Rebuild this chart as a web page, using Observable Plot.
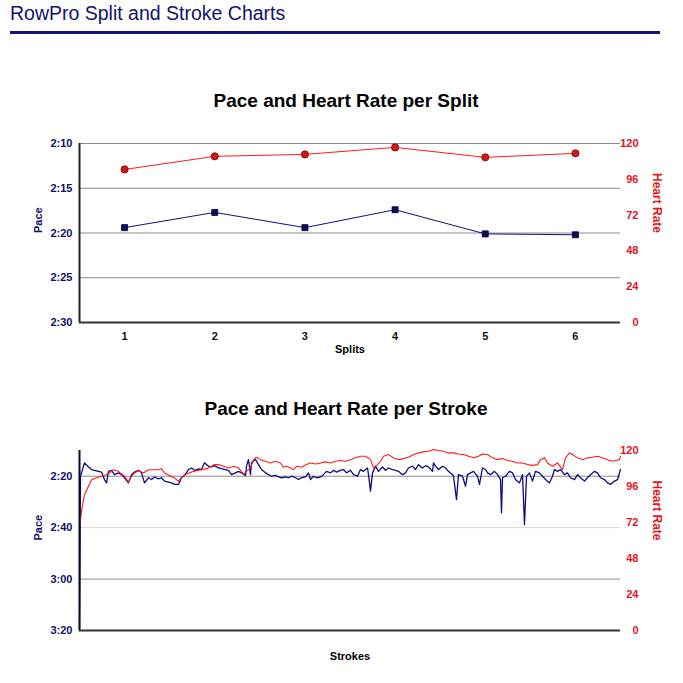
<!DOCTYPE html>
<html>
<head>
<meta charset="utf-8">
<script src="https://cdn.jsdelivr.net/npm/d3@7"></script>
<script src="https://cdn.jsdelivr.net/npm/@observablehq/plot@0.6"></script>
<style>
  body { margin: 0; background: #fff; font-family: "Liberation Sans", Arial, sans-serif; }
  #wrap { position: relative; width: 683px; height: 683px; overflow: hidden; }
  #hdr { position: absolute; left: 10px; top: 4px; font-size: 19.5px; line-height: 19.5px; color: #12126e; white-space: nowrap; }
  #rule { position: absolute; left: 10px; top: 31px; width: 650px; height: 3px; background: #14147a; }
  #c1 { position: absolute; left: 0; top: 70px; }
  #c2 { position: absolute; left: 0; top: 380px; }
  svg { overflow: visible; }
</style>
</head>
<body>
<div id="wrap">
  <div id="hdr">RowPro Split and Stroke Charts</div>
  <div id="rule"></div>
  <div id="c1"></div>
  <div id="c2"></div>
</div>
<script>
// ---- Split chart data ----
const splits = [1, 2, 3, 4, 5, 6];
const splitPace = [139.4, 137.7, 139.4, 137.4, 140.1, 140.2]; // seconds per 500m
const splitHR = [102.6, 111.4, 112.7, 117.4, 110.7, 113.4];
const splitPaceTicks = [130, 135, 140, 145, 150];
const hrTicks = [0, 24, 48, 72, 96, 120];

// ---- Stroke chart data ----
const strokePaceX = [0,1,5,9,12,15,19,22,25,27,29,32,35,39,42,45,49,52,55,59,62,65,69,72,75,79,82,85,89,92,95,99,102,105,109,112,115,119,122,125,129,132,135,139,144,149,152,156,159,162,166,167,169,171,172,176,179,182,186,189,192,196,199,202,206,209,212,216,219,222,226,229,231,234,237,241,244,247,251,254,257,261,264,267,271,274,278,281,284,288,289,291,293,296,299,303,306,309,313,316,319,323,326,329,333,336,339,343,346,349,353,354,356,359,363,366,369,373,374,377,379,383,386,388,391,394,398,400,403,406,408,411,415,418,421,422,423,426,430,433,436,440,443,445,447,450,453,456,460,463,466,470,473,475,478,481,485,488,491,495,498,501,505,508,511,515,518,521,525,528,531,535,538,541];
const strokePace = [200,140.0,134.8,136.4,137.4,137.7,138.1,138.4,141.3,142.6,138.1,137.7,139.4,138.7,139.4,140.6,142.6,139.4,138.4,137.7,138.7,142.6,140.6,141.3,140.3,141.0,140.6,141.9,142.3,142.6,143.2,143.2,140.6,139.7,137.4,136.8,137.7,137.2,137.4,134.8,136.1,136.4,135.9,136.8,137.2,137.7,139.4,138.7,138.1,138.7,139.7,136.1,133.5,139.4,134.8,133.5,135.5,137.4,138.7,139.4,140.0,139.7,140.3,140.6,140.3,140.6,140.0,140.6,141.3,140.6,140.3,138.7,141.3,140.0,140.6,140.3,139.4,138.1,138.7,137.7,138.4,137.7,137.4,138.7,137.7,139.4,140.0,137.4,138.1,136.8,139.4,145.8,138.7,136.1,138.1,136.4,137.7,136.8,137.4,137.7,138.1,139.4,138.7,136.8,136.1,137.4,135.5,136.8,135.9,136.4,138.1,134.8,136.1,137.4,136.1,136.8,138.1,139.4,140.0,149.1,139.4,140.0,143.9,139.4,138.7,138.1,140.0,143.2,136.8,137.4,138.7,139.4,138.1,139.4,141.3,154.2,140.6,140.0,138.1,138.7,141.3,142.6,139.4,158.8,140.0,138.7,141.9,138.1,138.7,140.0,141.3,142.6,140.0,137.4,138.1,137.4,139.4,138.7,140.6,141.3,139.4,140.6,141.9,140.6,139.4,138.1,138.7,140.6,141.3,142.6,143.2,141.9,141.3,137.4];
const strokeHRX = [0,2,4,5,9,12,17,22,27,30,34,39,42,45,49,52,55,59,64,69,74,79,82,85,90,95,99,102,107,112,117,122,127,132,135,139,144,149,154,159,164,167,171,174,177,181,186,191,196,201,204,207,211,214,217,222,227,231,236,241,246,251,256,261,266,271,276,281,286,291,294,298,301,304,309,314,319,324,329,334,339,344,349,354,359,364,369,374,379,384,389,394,399,403,408,413,418,423,428,433,438,443,448,453,458,461,465,468,473,478,483,486,490,493,498,503,508,513,518,523,528,533,536,540,541];
const strokeHR = [68.1,79.3,87.1,90.5,96.1,100.5,101.7,102.8,103.9,105.0,107.2,106.1,104.3,102.8,99.0,102.8,105.0,106.6,105.0,107.2,107.2,107.2,107.9,105.0,103.4,101.7,99.4,102.1,104.3,105.7,106.6,107.2,107.9,109.5,110.6,110.6,109.5,108.4,109.5,108.4,104.3,106.1,108.4,113.9,115.5,113.9,112.8,111.7,112.8,111.7,108.8,109.5,108.4,107.2,109.5,108.8,110.6,111.7,111.0,111.7,112.4,111.7,112.8,113.3,112.8,113.9,115.1,116.2,116.2,113.9,108.4,110.6,112.8,116.2,117.3,115.1,113.9,114.6,115.5,117.3,118.4,119.1,119.5,120.6,120.0,119.5,118.4,118.4,117.7,117.3,116.2,115.1,116.2,117.7,117.3,115.1,113.9,114.6,113.3,112.8,111.7,111.7,110.6,110.1,110.6,113.9,115.1,111.7,109.5,111.7,107.2,115.1,118.4,117.3,115.1,113.9,115.1,115.5,116.2,115.1,113.9,112.8,113.3,113.9,116.2];
const strokePaceTicks = [140, 160, 180, 200];

// ---- styles ----
const NAVY = "#10106b";
const RED = "#e4141c";
const FONT = "'Liberation Sans', Arial, sans-serif";
const fmt = s => `${Math.floor(s / 60)}:${String(Math.round(s % 60)).padStart(2, "0")}`;

// ---- Chart 1 ----
const p1Lo = 150, p1Hi = 130;
const hr1 = h => p1Lo - h * (p1Lo - p1Hi) / 120;
const chart1 = Plot.plot({
  width: 683, height: 290,
  marginTop: 73, marginBottom: 38, marginLeft: 79, marginRight: 63,
  x: {domain: [0.5, 6.5]},
  y: {domain: [p1Lo, p1Hi]},
  style: {fontFamily: FONT, overflow: "visible", background: "transparent"},
  marks: [
    Plot.ruleY([130, 135, 140, 145], {stroke: "#8c8c8c", strokeWidth: 1}),
    Plot.ruleY([150], {stroke: "#333", strokeWidth: 2}),
    Plot.ruleX([0.5], {stroke: "#222", strokeWidth: 2}),
    Plot.axisY({ticks: splitPaceTicks, anchor: "left", tickSize: 0, tickPadding: 7, tickFormat: fmt, fill: NAVY, fontWeight: "bold", fontSize: 11, label: null}),
    Plot.axisY({ticks: hrTicks.map(hr1), anchor: "right", tickSize: 0, tickPadding: 18, textAnchor: "end", tickFormat: v => Math.round((p1Lo - v) * 120 / (p1Lo - p1Hi)), fill: RED, fontWeight: "bold", fontSize: 11, label: null}),
    Plot.axisX({ticks: splits, tickFormat: d => String(d), tickSize: 0, tickPadding: 10, fill: "#111", fontWeight: "bold", fontSize: 11, label: null}),
    Plot.line(splits, {x: splits, y: splitPace, stroke: "#101080", strokeWidth: 1}),
    Plot.line(splits, {x: splits, y: splitHR.map(hr1), stroke: "#ff1a1a", strokeWidth: 1}),
    Plot.dot(splits, {x: splits, y: splitPace, symbol: "square", r: 3.4, fill: "#0c0c5c", stroke: "#000030", strokeWidth: 0.8}),
    Plot.dot(splits, {x: splits, y: splitHR.map(hr1), r: 3.6, fill: "#d01818", stroke: "#7a0000", strokeWidth: 0.8}),
    Plot.text(["Pace and Heart Rate per Split"], {text: d => d, frameAnchor: "top", lineAnchor: "middle", dy: -43, dx: -4, fontSize: 19, fontWeight: "bold", fill: "#000"}),
    Plot.text(["Pace"], {text: d => d, frameAnchor: "left", dx: -41.5, rotate: -90, fontSize: 11, fontWeight: "bold", fill: NAVY}),
    Plot.text(["Heart Rate"], {text: d => d, frameAnchor: "right", dx: 36, rotate: 90, fontSize: 12, fontWeight: "bold", fill: RED}),
    Plot.text(["Splits"], {text: d => d, frameAnchor: "bottom", lineAnchor: "middle", dy: 27, fontSize: 11, fontWeight: "bold", fill: "#000"})
  ]
});
document.getElementById("c1").appendChild(chart1);

// ---- Chart 2 ----
const p2Lo = 200, p2Hi = 130;
const hr2 = h => p2Lo - h * (p2Lo - p2Hi) / 120;
const chart2 = Plot.plot({
  width: 683, height: 290,
  marginTop: 70, marginBottom: 40, marginLeft: 79, marginRight: 63,
  x: {domain: [0, 541], axis: null},
  y: {domain: [p2Lo, p2Hi]},
  style: {fontFamily: FONT, overflow: "visible", background: "transparent"},
  marks: [
    Plot.ruleY([140, 180], {stroke: "#8c8c8c", strokeWidth: 1}),
    Plot.ruleY([160], {stroke: "#d6d6d6", strokeWidth: 1}),
    Plot.ruleY([200], {stroke: "#333", strokeWidth: 2}),
    Plot.axisY({ticks: strokePaceTicks, anchor: "left", tickSize: 0, tickPadding: 7, tickFormat: fmt, fill: NAVY, fontWeight: "bold", fontSize: 11, label: null}),
    Plot.axisY({ticks: hrTicks.map(hr2), anchor: "right", tickSize: 0, tickPadding: 18, textAnchor: "end", tickFormat: v => Math.round((p2Lo - v) * 120 / (p2Lo - p2Hi)), fill: RED, fontWeight: "bold", fontSize: 11, label: null}),
    Plot.line(strokePace, {x: strokePaceX, y: strokePace, stroke: "#0d0d85", strokeWidth: 1.3}),
    Plot.line(strokeHR, {x: strokeHRX, y: strokeHR.map(hr2), stroke: "#ff1a1a", strokeWidth: 1.1}),
    Plot.ruleX([0], {stroke: "#0a0a30", strokeWidth: 2}),
    Plot.text(["Pace and Heart Rate per Stroke"], {text: d => d, frameAnchor: "top", lineAnchor: "middle", dy: -42, dx: -4, fontSize: 19, fontWeight: "bold", fill: "#000"}),
    Plot.text(["Pace"], {text: d => d, frameAnchor: "left", dx: -41.5, rotate: -90, fontSize: 11, fontWeight: "bold", fill: NAVY}),
    Plot.text(["Heart Rate"], {text: d => d, frameAnchor: "right", dx: 36, rotate: 90, fontSize: 12, fontWeight: "bold", fill: RED}),
    Plot.text(["Strokes"], {text: d => d, frameAnchor: "bottom", lineAnchor: "middle", dy: 26, fontSize: 11, fontWeight: "bold", fill: "#000"})
  ]
});
document.getElementById("c2").appendChild(chart2);
</script>
</body>
</html>
